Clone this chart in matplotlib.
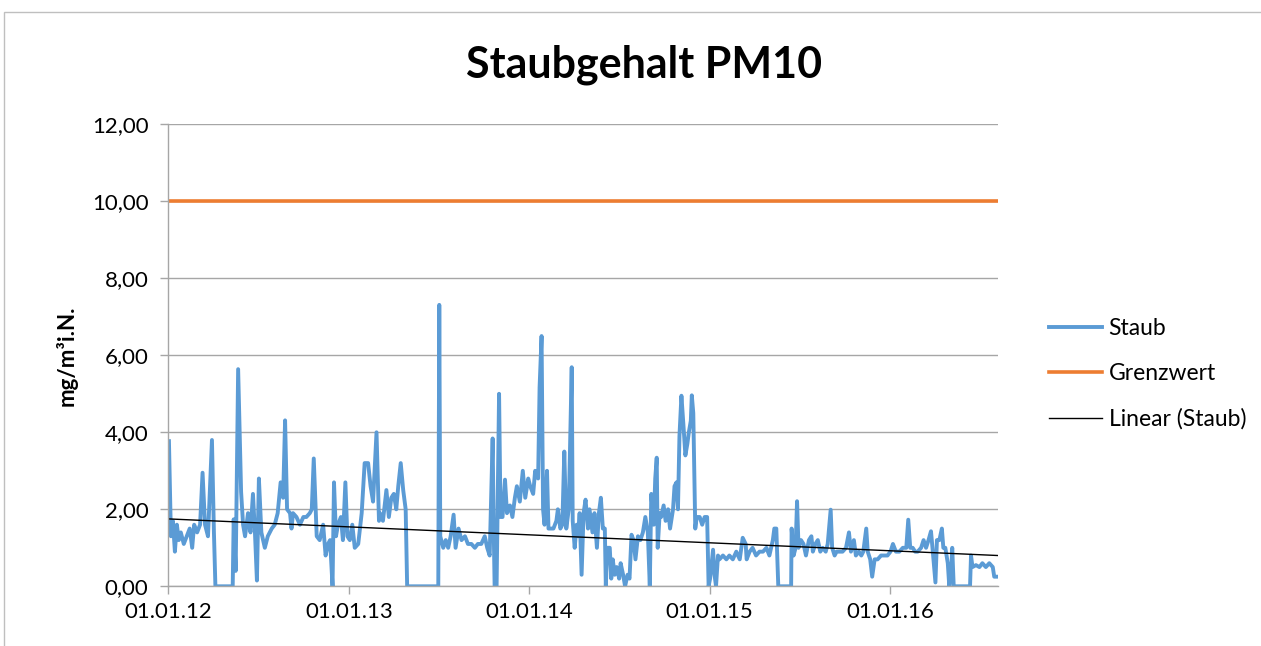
import numpy as np
import pandas as pd
import matplotlib
matplotlib.use("Agg")
import matplotlib.pyplot as plt
import matplotlib.dates as mdates
from matplotlib.patches import Rectangle


# --------------------------------------------------
# Data: days since 01.01.2012, PM10 in mg/m3 i.N.
# --------------------------------------------------

start = "2012-01-01"

tage = [
    2, 6, 10, 14, 18, 22, 26, 32, 38, 44, 49, 53, 59, 65, 70, 75, 81, 89, 93, 96,
    131, 133, 137, 142, 148, 152, 156, 162, 167, 172, 176, 180, 184, 189, 196, 202,
    210, 216, 222, 228, 233, 237, 241, 247, 250, 253, 260, 267, 274, 280, 287, 291,
    295, 301, 307, 314, 319, 324, 328, 333, 336, 340, 344, 350, 354, 359, 363, 368,
    373, 378, 385, 392, 398, 405, 410, 415, 422, 427, 429, 435, 442, 447, 452, 457,
    462, 466, 471, 476, 481, 484, 547, 549, 551, 557, 562, 567, 572, 578, 582, 588,
    594, 601, 607, 614, 621, 627, 634, 641, 646, 651, 657, 659, 661, 665, 670, 673,
    677, 682, 686, 692, 697, 702, 706, 712, 718, 723, 729, 733, 739, 743, 749, 752,
    756, 759, 762, 767, 770, 776, 780, 786, 789, 794, 798, 802, 806, 811, 817, 819,
    823, 827, 830, 833, 837, 841, 845, 850, 853, 859, 863, 868, 872, 876, 880, 884,
    886, 889, 894, 897, 900, 904, 908, 913, 916, 921, 925, 930, 934, 938, 942, 946,
    951, 956, 961, 966, 971, 975, 978, 983, 986, 989, 991, 995, 998, 1003, 1007, 1012,
    1016, 1022, 1025, 1029, 1032, 1035, 1039, 1043, 1047, 1051, 1054, 1058, 1060, 1063,
    1067, 1070, 1076, 1081, 1086, 1091, 1094, 1097, 1103, 1106, 1109, 1113, 1116, 1123,
    1130, 1136, 1143, 1150, 1157, 1163, 1169, 1171, 1177, 1183, 1190, 1197, 1204, 1211,
    1217, 1224, 1227, 1231, 1235, 1261, 1262, 1266, 1270, 1273, 1276, 1281, 1286, 1291,
    1297, 1302, 1305, 1310, 1315, 1320, 1325, 1331, 1335, 1341, 1344, 1349, 1353, 1359,
    1365, 1372, 1378, 1382, 1388, 1392, 1398, 1403, 1407, 1413, 1416, 1421, 1425, 1430,
    1436, 1443, 1450, 1456, 1462, 1467, 1473, 1480, 1487, 1494, 1498, 1502, 1507, 1512,
    1517, 1524, 1529, 1534, 1539, 1544, 1547, 1553, 1556, 1561, 1566, 1569, 1573, 1578,
    1581, 1585, 1587, 1590, 1623, 1625, 1628, 1635, 1642, 1648, 1655, 1662, 1669, 1672,
    1679,
]

staub = [
    3.77, 1.3, 1.7, 0.9, 1.6, 1.2, 1.4, 1.1, 1.3, 1.5, 1.0, 1.6, 1.4, 1.6, 2.95, 1.6, 1.3, 3.8, 1.4, 0.0,
    0.0, 1.74, 0.4, 5.64, 2.45, 1.6, 1.3, 1.9, 1.4, 2.4, 1.4, 0.15, 2.8, 1.4, 1.0, 1.3,
    1.5, 1.6, 1.9, 2.7, 2.3, 4.31, 2.0, 1.9, 1.5, 1.9, 1.8, 1.6, 1.8, 1.8, 1.9, 2.0,
    3.32, 1.3, 1.2, 1.6, 0.8, 1.1, 1.2, 0.0, 2.7, 1.3, 1.6, 1.8, 1.2, 2.7, 1.3, 1.2,
    1.6, 1.0, 1.1, 1.9, 3.2, 3.2, 2.6, 2.2, 4.0, 1.7, 1.9, 1.7, 2.5, 1.8, 2.3, 2.4,
    2.0, 2.6, 3.2, 2.5, 2.0, 0.0, 0.0, 7.31, 1.3, 1.0, 1.2, 1.0, 1.3, 1.86, 1.0, 1.5,
    1.2, 1.3, 1.1, 1.1, 1.0, 1.1, 1.1, 1.3, 1.0, 0.8, 3.84, 1.6, 0.0, 0.0, 5.0, 1.8,
    1.8, 2.77, 1.9, 2.1, 1.8, 2.3, 2.6, 2.2, 3.0, 2.3, 2.8, 2.6, 2.4, 3.0, 2.8, 5.17,
    6.5, 2.0, 1.6, 3.0, 1.5, 1.5, 1.5, 1.7, 2.0, 1.5, 1.6, 3.5, 1.5, 2.0, 5.69, 1.7,
    1.0, 1.6, 1.3, 1.9, 0.3, 1.9, 2.25, 1.5, 2.0, 1.4, 1.9, 1.0, 1.9, 2.3, 1.5, 1.5,
    0.0, 1.0, 1.0, 0.2, 0.7, 0.3, 0.5, 0.2, 0.6, 0.3, 0.0, 0.3, 0.2, 1.34, 1.2, 0.7,
    1.3, 1.2, 1.4, 1.8, 1.4, 0.0, 2.4, 1.6, 2.8, 3.34, 1.0, 1.9, 1.8, 2.1, 1.7, 2.0,
    1.5, 2.0, 2.6, 2.7, 2.0, 3.9, 4.95, 4.2, 3.4, 3.7, 4.0, 4.3, 4.96, 4.5,
    1.5, 1.8, 1.8, 1.6, 1.8, 1.8, 0.0, 0.2, 0.95, 0.3, 0.0, 0.8, 0.7, 0.8,
    0.7, 0.8, 0.7, 0.9, 0.7, 1.26, 1.1, 0.7, 0.9, 1.0, 0.8, 0.9, 0.9, 1.0,
    0.8, 1.2, 1.5, 1.5, 0.0, 0.0, 1.5, 0.8, 1.0, 2.21, 1.0, 1.2, 1.1, 0.8,
    1.2, 1.3, 0.9, 1.1, 1.2, 0.9, 1.0, 0.9, 1.1, 1.99, 1.0, 0.8, 0.9, 0.9,
    0.9, 1.0, 1.4, 0.9, 1.2, 0.8, 0.9, 0.8, 0.9, 1.5, 0.9, 0.7, 0.25, 0.7,
    0.7, 0.8, 0.8, 0.8, 0.9, 1.1, 0.9, 0.9, 1.0, 1.0, 1.73, 1.0, 1.0, 0.9,
    0.9, 1.0, 1.2, 1.0, 1.2, 1.43, 1.0, 0.1, 1.2, 1.2, 1.5, 1.0, 1.0, 0.6,
    0.0, 0.4, 1.0, 0.0, 0.0, 0.8, 0.5, 0.55, 0.5, 0.6, 0.5, 0.6, 0.5, 0.25,
    0.25,
]

grenzwert = 10.0

trend_anfang = 1.75
trend_ende = 0.80

datum = pd.to_datetime(start) + pd.to_timedelta(tage, unit="D")


# --------------------------------------------------
# Plot
# --------------------------------------------------

plt.rcParams["font.family"] = ["Lato", "DejaVu Sans"]

fig = plt.figure(figsize=(12.61, 6.46), dpi=100)
ax = fig.add_axes([0.1332, 0.0924, 0.658, 0.7152])

ax.plot(datum, staub, color="#5B9BD5", linewidth=2.8, label="Staub",
        solid_joinstyle="round")
ax.plot([datum[0], datum[-1]], [grenzwert, grenzwert], color="#ED7D31",
        linewidth=2.6, label="Grenzwert")
ax.plot([datum[0], datum[-1]], [trend_anfang, trend_ende], color="black",
        linewidth=1.0, label="Linear (Staub)")

ax.set_xlim(pd.Timestamp(start), datum[-1])
ax.set_ylim(0, 12)
yticks = np.arange(0, 13, 2)
ax.set_yticks(yticks)
ax.set_yticklabels([f"{v:.2f}".replace(".", ",") for v in yticks])

ax.xaxis.set_major_locator(mdates.YearLocator())
ax.xaxis.set_major_formatter(mdates.DateFormatter("%d.%m.%y"))

ax.grid(axis="y", color="#A6A6A6", linewidth=1.0)
ax.set_axisbelow(True)
for side in ["top", "right"]:
    ax.spines[side].set_visible(False)
for side in ["left", "bottom"]:
    ax.spines[side].set_color("#A6A6A6")
    ax.spines[side].set_linewidth(1.0)

ax.tick_params(axis="both", colors="#A6A6A6", length=6, width=1.0,
               labelsize=16, labelcolor="black")
ax.tick_params(axis="y", pad=8)
ax.tick_params(axis="x", pad=5)

ax.set_ylabel("mg/m³i.N.", fontsize=16, fontweight="bold", labelpad=10)
fig.text(0.511, 0.9, "Staubgehalt PM10", fontsize=31, fontweight="bold",
         ha="center", va="center")

ax.legend(loc="center left", bbox_to_anchor=(1.037, 0.459), frameon=False,
          fontsize=16.5, handlelength=2.3, handletextpad=0.3,
          labelspacing=1.05)

# outer chart frame
fig.patches.append(Rectangle((4 / 1261, -0.05), 1.2, 1 - 12 / 646 + 0.05,
                             transform=fig.transFigure, fill=False,
                             edgecolor="#BFBFBF", linewidth=1.0))

fig.savefig("out.png", dpi=100)
